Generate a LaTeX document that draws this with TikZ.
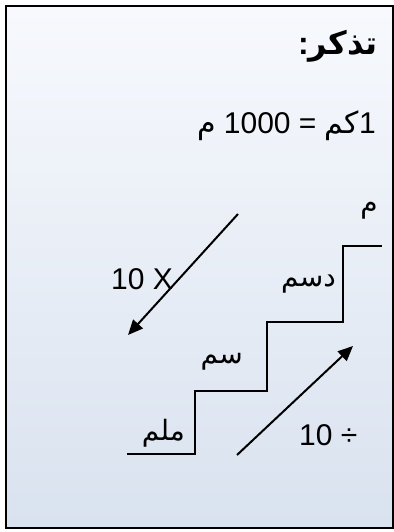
\documentclass[tikz,border=0pt]{standalone}
\usepackage{fontspec}
\setmainfont{Liberation Sans}
\newfontfamily\ar[Script=Arabic]{DejaVu Sans}
\usetikzlibrary{arrows.meta}
\definecolor{boxtop}{HTML}{F7F9FD}
\definecolor{boxbot}{HTML}{D9E2EF}
\tikzset{
  lbl/.style={inner sep=0pt, font=\fontsize{30}{36}\selectfont},
  arlbl/.style={inner sep=0pt, font=\fontsize{28}{34}\selectfont\ar},
  stair/.style={line width=1.6pt, black},
  conv/.style={line width=2pt, black, -{Triangle[length=15pt,width=13pt]}}
}
\begin{document}
\begin{tikzpicture}[x=1pt,y=-1pt]
\useasboundingbox (0,0) rectangle (393,532);
\fill[white] (0,0) rectangle (393,532);
\node[draw=black, line width=1.8pt, top color=boxtop, bottom color=boxbot,
      minimum width=387pt, minimum height=522pt, inner sep=0pt, anchor=north west] (box) at (5,5) {};
% title
\node[lbl, anchor=base east] (title) at (378,55) {\fontsize{32}{38}\selectfont\bfseries :{\ar\bfseries تذكر}};
% km = 1000 m
\node[lbl, anchor=base east] (km) at (376,133) {{\ar م} 1000 = {\ar كم}1};
% stairs
\coordinate (s0) at (127,454);
\coordinate (s1) at (195,454);
\coordinate (s2) at (195,391);
\coordinate (s3) at (267,391);
\coordinate (s4) at (267,322);
\coordinate (s5) at (343,322);
\coordinate (s6) at (343,246);
\coordinate (s7) at (382,246);
\draw[stair] (s0) -- (s1) -- (s2) -- (s3) -- (s4) -- (s5) -- (s6) -- (s7);
% unit labels
\node[arlbl, anchor=base east] (m) at (378,212) {م};
\node[arlbl, anchor=base east] (dm) at (336,286) {دسم};
\node[arlbl, anchor=base east] (cm) at (243,363) {سم};
\node[arlbl, anchor=base east] (mm) at (185,440) {ملم};
% arrows
\coordinate (a1s) at (238,214);
\coordinate (a1e) at (128,335);
\draw[conv] (a1s) -- (a1e);
\coordinate (a2s) at (237,455);
\coordinate (a2e) at (353,346);
\draw[conv] (a2s) -- (a2e);
\node[lbl, anchor=base west] (times) at (111,289) {10 X};
\node[lbl, anchor=base west] (div) at (299,445) {10 ÷};
\end{tikzpicture}
\end{document}
